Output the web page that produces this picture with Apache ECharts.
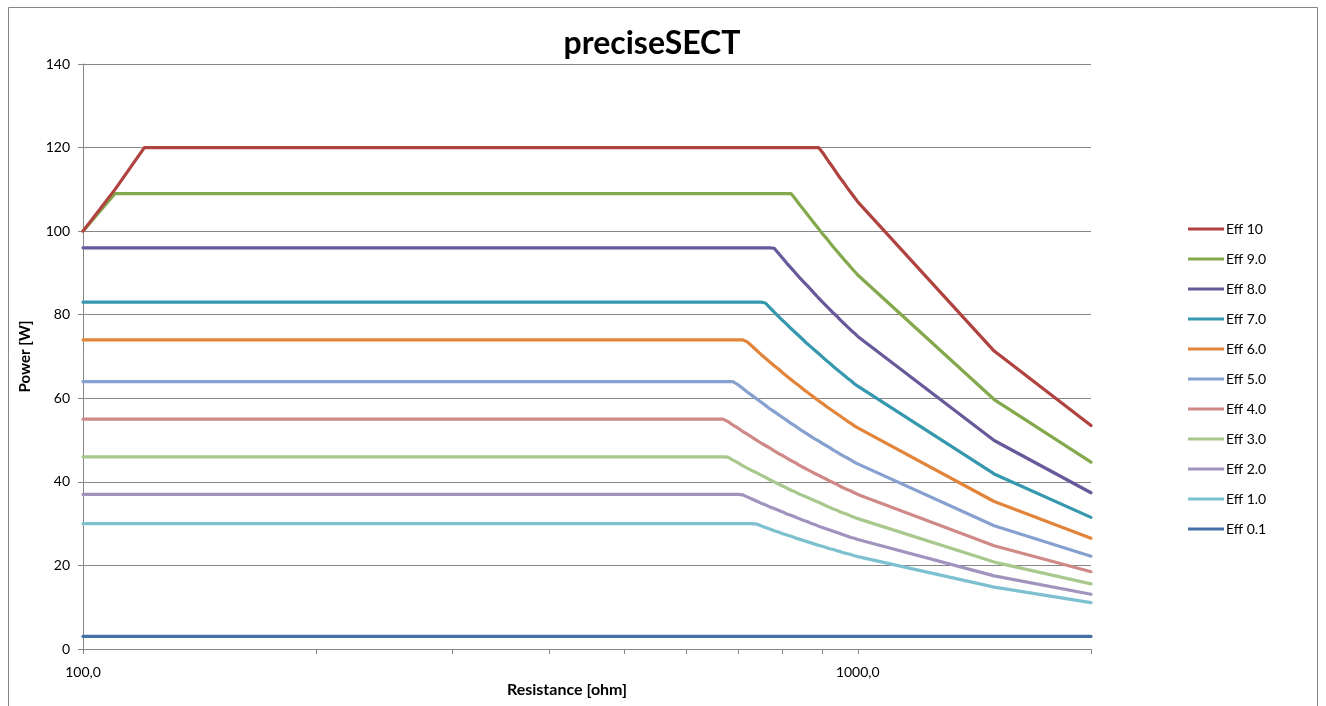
<!DOCTYPE html>
<html>
<head>
<meta charset="utf-8">
<script src="https://cdn.jsdelivr.net/npm/echarts@6/dist/echarts.min.js"></script>
<style>html,body{margin:0;padding:0;background:#fff}#c{width:1326px;height:706px}</style>
</head>
<body>
<div id="c"></div>
<script>
// Resistance [ohm] sample points
var resistance = [100, 110, 120, 640, 650, 660, 670, 680, 690, 700, 710, 720, 730, 740, 750, 760, 770, 780, 790, 800, 810, 820, 830, 840, 850, 860, 870, 880, 890, 900, 910, 920, 930, 940, 950, 960, 970, 980, 990, 1000, 1500, 2000];

var seriesNames = ['Eff 10', 'Eff 9.0', 'Eff 8.0', 'Eff 7.0', 'Eff 6.0', 'Eff 5.0', 'Eff 4.0', 'Eff 3.0', 'Eff 2.0', 'Eff 1.0', 'Eff 0.1'];

var eff10 = [100, 110, 120, 120, 120, 120, 120, 120, 120, 120, 120, 120, 120, 120, 120, 120, 120, 120, 120, 120, 120, 120, 120, 120, 120, 120, 120, 120, 120, 118.9, 117.6, 116.3, 115.1, 113.8, 112.6, 111.5, 110.3, 109.2, 108.1, 107, 71.3, 53.5];
var eff9 = [100, 109, 109, 109, 109, 109, 109, 109, 109, 109, 109, 109, 109, 109, 109, 109, 109, 109, 109, 109, 109, 109, 107.8, 106.5, 105.3, 104.1, 102.9, 101.7, 100.6, 99.4, 98.4, 97.3, 96.2, 95.2, 94.2, 93.2, 92.3, 91.3, 90.4, 89.5, 59.7, 44.7];
var eff8 = [96, 96, 96, 96, 96, 96, 96, 96, 96, 96, 96, 96, 96, 96, 96, 96, 96, 95.9, 94.7, 93.5, 92.3, 91.2, 90.1, 89.0, 88.0, 87.0, 86.0, 85.0, 84.0, 83.1, 82.2, 81.3, 80.4, 79.6, 78.7, 77.9, 77.1, 76.3, 75.6, 74.8, 49.9, 37.4];
var eff7 = [83, 83, 83, 83, 83, 83, 83, 83, 83, 83, 83, 83, 83, 83, 83, 82.8, 81.7, 80.6, 79.6, 78.6, 77.7, 76.7, 75.8, 74.9, 74.0, 73.1, 72.3, 71.5, 70.7, 69.9, 69.1, 68.4, 67.6, 66.9, 66.2, 65.5, 64.8, 64.2, 63.5, 62.9, 41.9, 31.5];
var eff6 = [74, 74, 74, 74, 74, 74, 74, 74, 74, 74, 74, 73.5, 72.5, 71.5, 70.5, 69.6, 68.7, 67.8, 67.0, 66.1, 65.3, 64.5, 63.7, 63.0, 62.2, 61.5, 60.8, 60.1, 59.4, 58.8, 58.1, 57.5, 56.9, 56.3, 55.7, 55.1, 54.5, 54.0, 53.4, 52.9, 35.3, 26.5];
var eff5 = [64, 64, 64, 64, 64, 64, 64, 64, 64, 63.3, 62.4, 61.5, 60.7, 59.9, 59.1, 58.3, 57.5, 56.8, 56.1, 55.4, 54.7, 54.0, 53.4, 52.7, 52.1, 51.5, 50.9, 50.3, 49.8, 49.2, 48.7, 48.2, 47.6, 47.1, 46.6, 46.1, 45.7, 45.2, 44.7, 44.3, 29.5, 22.2];
var eff4 = [55, 55, 55, 55, 55, 55, 55, 54.4, 53.6, 52.9, 52.1, 51.4, 50.7, 50.0, 49.3, 48.7, 48.1, 47.4, 46.8, 46.3, 45.7, 45.1, 44.6, 44.0, 43.5, 43.0, 42.5, 42.0, 41.6, 41.1, 40.7, 40.2, 39.8, 39.4, 38.9, 38.5, 38.1, 37.8, 37.4, 37.0, 24.7, 18.5];
var eff3 = [46, 46, 46, 46, 46, 46, 46, 45.9, 45.2, 44.6, 43.9, 43.3, 42.7, 42.2, 41.6, 41.1, 40.5, 40.0, 39.5, 39.0, 38.5, 38.0, 37.6, 37.1, 36.7, 36.3, 35.9, 35.5, 35.1, 34.7, 34.3, 33.9, 33.5, 33.2, 32.8, 32.5, 32.2, 31.8, 31.5, 31.2, 20.8, 15.6];
var eff2 = [37, 37, 37, 37, 37, 37, 37, 37, 37, 37, 36.9, 36.4, 35.9, 35.4, 34.9, 34.5, 34.0, 33.6, 33.2, 32.8, 32.3, 32.0, 31.6, 31.2, 30.8, 30.5, 30.1, 29.8, 29.4, 29.1, 28.8, 28.5, 28.2, 27.9, 27.6, 27.3, 27.0, 26.7, 26.5, 26.2, 17.5, 13.1];
var eff1 = [30, 30, 30, 30, 30, 30, 30, 30, 30, 30, 30, 30, 30, 29.9, 29.5, 29.1, 28.7, 28.3, 28.0, 27.6, 27.3, 27.0, 26.6, 26.3, 26.0, 25.7, 25.4, 25.1, 24.8, 24.6, 24.3, 24.0, 23.8, 23.5, 23.3, 23.0, 22.8, 22.6, 22.3, 22.1, 14.8, 11.1];
var eff01 = [3, 3, 3, 3, 3, 3, 3, 3, 3, 3, 3, 3, 3, 3, 3, 3, 3, 3, 3, 3, 3, 3, 3, 3, 3, 3, 3, 3, 3, 3, 3, 3, 3, 3, 3, 3, 3, 3, 3, 3, 3, 3];

var seriesValues = [eff10, eff9, eff8, eff7, eff6, eff5, eff4, eff3, eff2, eff1, eff01];
var seriesColors = ['#B0423F', '#84A94D', '#68599A', '#3698AE', '#E2853A', '#86A0CF', '#CF8A88', '#A9C88E', '#A094BE', '#7DC0CF', '#4472A8'];

var xLabelValues = [100, 1000];
var xTickValues = [100, 200, 300, 400, 500, 600, 700, 800, 900, 1000, 2000];
var yTicks = [0, 20, 40, 60, 80, 100, 120, 140];

var FONT = 'Lato, "Open Sans", sans-serif';
var GRAY = '#868686';

var chart = echarts.init(document.getElementById('c'), null, {renderer: 'canvas'});

var series = seriesNames.map(function (name, i) {
  return {
    name: name,
    type: 'line',
    data: resistance.map(function (r, j) { return [r, seriesValues[i][j]]; }),
    showSymbol: false,
    symbol: 'none',
    lineStyle: {width: 3.2, color: seriesColors[i], cap: 'round', join: 'round'},
    itemStyle: {color: seriesColors[i]},
    animation: false,
    z: 2 + (seriesNames.length - i)
  };
});

chart.setOption({
  animation: false,
  backgroundColor: '#fff',
  title: {
    text: 'preciseSECT',
    left: 647,
    top: 23,
    textAlign: 'center',
    textStyle: {fontFamily: FONT, fontSize: 32, fontWeight: 'bold', color: '#000'}
  },
  grid: {left: 83, right: 235, top: 64, bottom: 57, containLabel: false},
  legend: {
    orient: 'vertical',
    left: 1183,
    top: 217,
    icon: 'rect',
    itemWidth: 36,
    itemHeight: 3,
    itemGap: 16,
    data: seriesNames,
    textStyle: {fontFamily: FONT, fontSize: 14, color: '#000', lineHeight: 14, padding: [0, 0, 0, -3]},
    selectedMode: false
  },
  xAxis: {
    type: 'log',
    logBase: 10,
    min: 100,
    max: 2000,
    axisLine: {show: true, lineStyle: {color: GRAY, width: 1}},
    axisTick: {show: true, customValues: xTickValues, length: 5, lineStyle: {color: GRAY}},
    axisLabel: {
      customValues: xLabelValues,
      margin: 16,
      fontFamily: FONT, fontSize: 14, color: '#000',
      formatter: function (v) { return Number(v).toFixed(1).replace('.', ','); }
    },
    splitLine: {show: false},
    minorTick: {show: false},
    minorSplitLine: {show: false}
  },
  yAxis: {
    type: 'value',
    min: 0,
    max: 140,
    interval: 20,
    name: 'Power [W]',
    nameLocation: 'middle',
    nameGap: 50,
    nameTextStyle: {fontFamily: FONT, fontSize: 15, fontWeight: 'bold', color: '#000'},
    axisLine: {show: true, lineStyle: {color: GRAY, width: 1}},
    axisTick: {show: true, length: 5, inside: false, lineStyle: {color: GRAY}},
    axisLabel: {margin: 13, fontFamily: FONT, fontSize: 14, color: '#000'},
    splitLine: {show: true, lineStyle: {color: GRAY, width: 1}}
  },
  graphic: [
    {
      type: 'rect',
      shape: {x: 8.5, y: 7.5, width: 1309, height: 720},
      style: {fill: 'none', stroke: GRAY, lineWidth: 1},
      silent: true,
      z: 0
    },
    {
      type: 'text',
      x: 567,
      y: 690,
      style: {text: 'Resistance [ohm]', fontFamily: FONT, fontSize: 16, fontWeight: 'bold', fill: '#000', align: 'center', verticalAlign: 'middle'},
      silent: true
    }
  ],
  series: series
});
</script>
</body>
</html>
